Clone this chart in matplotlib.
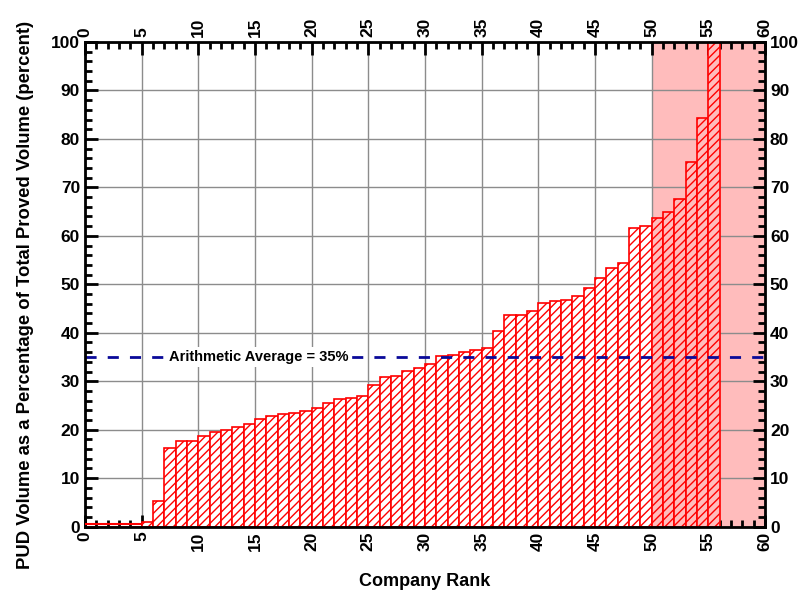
import matplotlib
matplotlib.use("Agg")
import matplotlib.pyplot as plt
from matplotlib.ticker import MultipleLocator

plt.rcParams['font.family'] = ['Liberation Sans', 'DejaVu Sans']
plt.rcParams['hatch.color'] = 'red'
plt.rcParams['hatch.linewidth'] = 1.0

# Data: company rank (1..56) and PUD percentage
ranks = list(range(1, 57))
pud_pct = [0, 0, 0, 0, 0, 1.0, 5.3, 16.2, 17.6, 17.6,
           18.6, 19.5, 19.9, 20.5, 21.2, 22.2, 22.9, 23.2, 23.5, 23.9,
           24.4, 25.6, 26.3, 26.6, 27.0, 29.2, 30.9, 31.0, 32.1, 32.8,
           33.5, 35.1, 35.5, 36.1, 36.4, 36.8, 40.4, 43.7, 43.7, 44.4,
           46.2, 46.5, 46.8, 47.6, 49.2, 51.3, 53.4, 54.3, 61.7, 62.0,
           63.6, 64.9, 67.5, 75.3, 84.4, 100.0]
average = 35
avg_label = "Arithmetic Average = 35%"
shade_range = (50, 60)
xlabel = "Company Rank"
ylabel = "PUD Volume as a Percentage of Total Proved Volume (percent)"

fig = plt.figure(figsize=(8.07, 5.94), dpi=100)
ax = fig.add_axes([0.1053, 0.1135, 0.8427, 0.8158])

pink = '#ffbcbc'
ax.axvspan(shade_range[0], shade_range[1], color=pink, zorder=0, lw=0)
ax.grid(True, which='major', color='#8c8c8c', lw=1.0, zorder=0.5)

lefts = [r - 1 for r in ranks]
faces = [pink if l >= shade_range[0] else 'white' for l in lefts]
ax.bar(lefts, pud_pct, width=1.0, align='edge', color=faces, edgecolor='red',
       hatch='////', linewidth=1.2, zorder=2)
# zero-height companies drawn as a red baseline
zero_left = [l for l, v in zip(lefts, pud_pct) if v == 0]
ax.hlines([0.5] * len(zero_left), zero_left, [l + 1 for l in zero_left],
          colors='red', lw=1.5, zorder=6)

ax.axhline(average, color='#0a0a99', lw=2, ls=(0, (4, 4)), zorder=3)
ax.text(15.3, average, avg_label, ha='center', va='center', fontsize=10.5,
        fontweight='bold', zorder=4,
        bbox=dict(facecolor='white', edgecolor='none', pad=2))

ax.set_xlim(0, 60)
ax.set_ylim(0, 100)
ax.xaxis.set_major_locator(MultipleLocator(5))
ax.xaxis.set_minor_locator(MultipleLocator(1))
ax.yaxis.set_major_locator(MultipleLocator(10))
ax.yaxis.set_minor_locator(MultipleLocator(2))

ax.tick_params(which='both', direction='in', top=True, right=True,
               labeltop=True, labelright=True, width=2, labelsize=12.5)
ax.tick_params(which='major', length=9)
ax.tick_params(which='minor', length=5)
ax.tick_params(axis='x', which='both', labelrotation=90)
for t in ax.xaxis.get_major_ticks() + ax.yaxis.get_major_ticks():
    t.label1.set_fontweight('bold')
    t.label2.set_fontweight('bold')

for s in ax.spines.values():
    s.set_linewidth(2)
    s.set_zorder(5)

ax.set_xlabel(xlabel, fontsize=13, fontweight='bold', labelpad=16)
ax.set_ylabel(ylabel, fontsize=13.3, fontweight='bold', labelpad=12)
ax.yaxis.label.set_y(0.478)

fig.savefig('out.png', dpi=100)
